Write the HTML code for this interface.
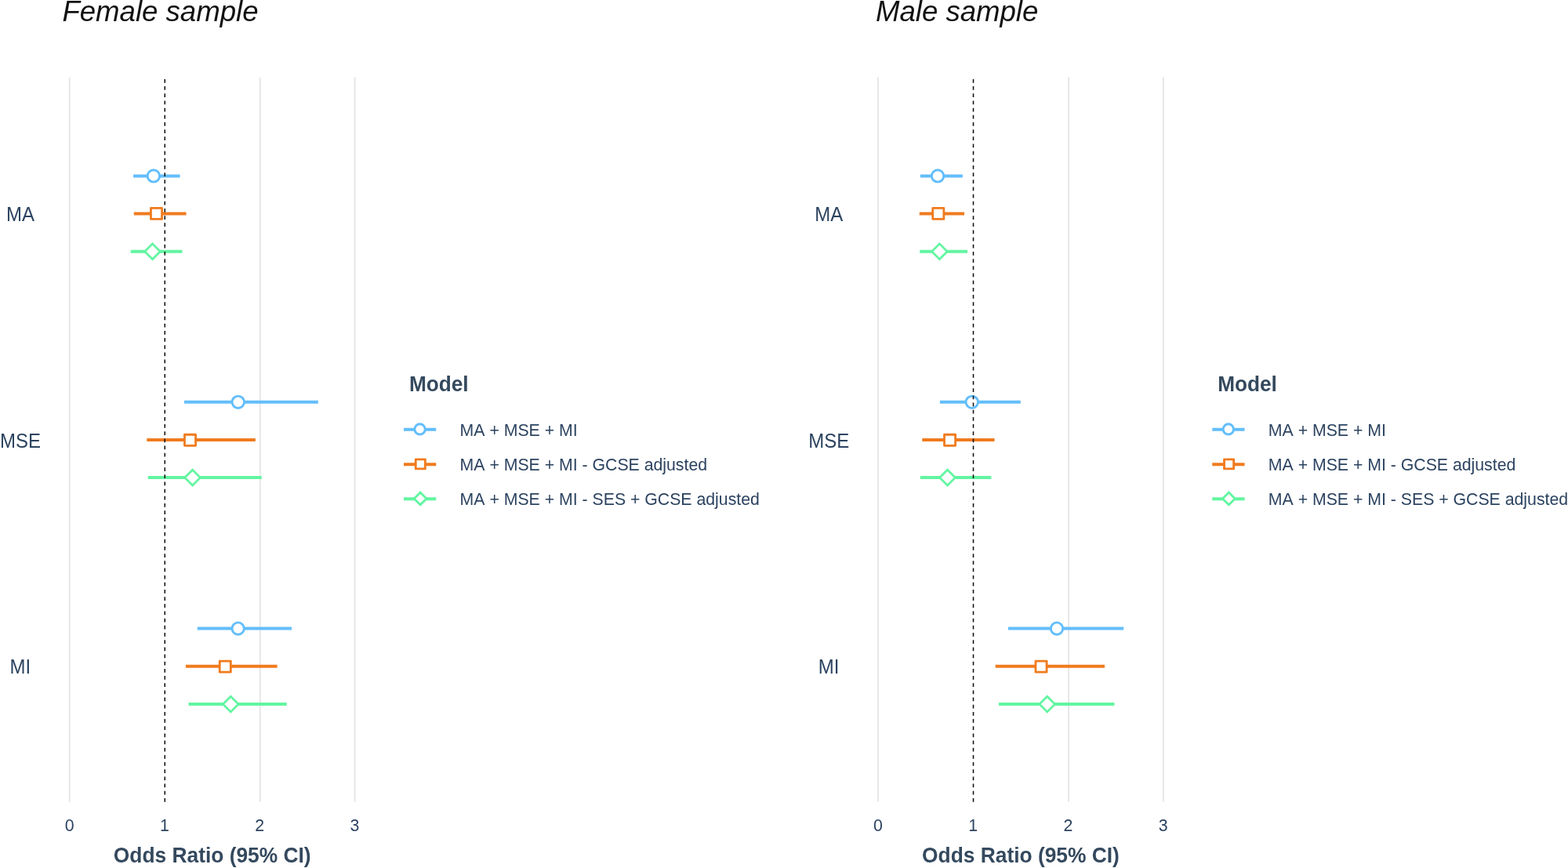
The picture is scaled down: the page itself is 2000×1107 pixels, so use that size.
<!DOCTYPE html>
<html lang="en">
<head>
<meta charset="utf-8">
<title>Odds ratios by model: female and male samples</title>
<style>
html,body{margin:0;padding:0;background:#fff;}
body{width:2000px;height:1107px;overflow:hidden;}
svg{display:block;}
text{font-family:"Liberation Sans",sans-serif;fill:#2c4360;font-kerning:none;}
.title{font-size:36.6px;font-style:italic;fill:#111;}
.ytick{font-size:24px;text-anchor:middle;}
.xtick{font-size:21.3px;text-anchor:middle;}
.xtitle{font-size:26.35px;font-weight:bold;text-anchor:middle;fill:#34495e;}
.lgtitle{font-size:26.2px;font-weight:bold;fill:#34495e;}
.lg{font-size:21.27px;}
.grid{stroke:#e6e6e6;stroke-width:1.9;}
.ref{stroke:#111;stroke-width:1.55;stroke-dasharray:4.75 4.42;}
</style>
</head>
<body>
<svg width="2000" height="1107" viewBox="0 0 2000 1107">
<rect x="0" y="0" width="2000" height="1107" fill="#fff"/>
<g class="panel">
<line class="grid" x1="88.65" y1="98.6" x2="88.65" y2="1022.7"/>
<line class="grid" x1="331.8" y1="98.6" x2="331.8" y2="1022.7"/>
<line class="grid" x1="452.55" y1="98.6" x2="452.55" y2="1022.7"/>
<line x1="170" y1="224.45" x2="229.5" y2="224.45" stroke="#63BEFB" stroke-width="4"/>
<circle cx="195.9" cy="224.45" r="7.7" fill="#fff" stroke="#63BEFB" stroke-width="2.9"/>
<line x1="170.75" y1="272.5" x2="237.5" y2="272.5" stroke="#F07B1E" stroke-width="4"/>
<rect x="192.45" y="265.35" width="14.1" height="14.1" fill="#fff" stroke="#F07B1E" stroke-width="2.8" stroke-linejoin="round"/>
<line x1="166.75" y1="320.8" x2="232.5" y2="320.8" stroke="#62F5A1" stroke-width="4"/>
<path d="M204.38,320.7L194.5,330.58L184.62,320.7L194.5,310.82Z" fill="#fff" stroke="#62F5A1" stroke-width="2.75"/>
<line x1="235" y1="512.8" x2="405.8" y2="512.8" stroke="#63BEFB" stroke-width="4"/>
<circle cx="303.75" cy="512.8" r="7.7" fill="#fff" stroke="#63BEFB" stroke-width="2.9"/>
<line x1="187.3" y1="560.95" x2="325.8" y2="560.95" stroke="#F07B1E" stroke-width="4"/>
<rect x="235.45" y="554.25" width="14.1" height="14.1" fill="#fff" stroke="#F07B1E" stroke-width="2.8" stroke-linejoin="round"/>
<line x1="188.75" y1="609" x2="333.75" y2="609" stroke="#62F5A1" stroke-width="4"/>
<path d="M255.48,609.1L245.6,618.98L235.72,609.1L245.6,599.22Z" fill="#fff" stroke="#62F5A1" stroke-width="2.75"/>
<line x1="251.7" y1="801.6" x2="372" y2="801.6" stroke="#63BEFB" stroke-width="4"/>
<circle cx="303.65" cy="801.6" r="7.7" fill="#fff" stroke="#63BEFB" stroke-width="2.9"/>
<line x1="236.9" y1="849.8" x2="353.6" y2="849.8" stroke="#F07B1E" stroke-width="4"/>
<rect x="280.2" y="843.1" width="14.1" height="14.1" fill="#fff" stroke="#F07B1E" stroke-width="2.8" stroke-linejoin="round"/>
<line x1="240.6" y1="897.95" x2="365.75" y2="897.95" stroke="#62F5A1" stroke-width="4"/>
<path d="M304.13,898.05L294.25,907.93L284.37,898.05L294.25,888.17Z" fill="#fff" stroke="#62F5A1" stroke-width="2.75"/>
<line class="ref" x1="210.25" y1="1022.7" x2="210.25" y2="99.6"/>
<text class="title" transform="translate(79.4 27.4) scale(1 1.015)">Female sample</text>
<text class="ytick" transform="translate(25.9 281.9) scale(1 1.041)">MA</text>
<text class="ytick" transform="translate(25.9 570.5) scale(1 1.041)">MSE</text>
<text class="ytick" transform="translate(25.9 859.4) scale(1 1.041)">MI</text>
<text class="xtick" transform="translate(88.6 1059.5) scale(1 1.041)">0</text>
<text class="xtick" transform="translate(209.9 1059.5) scale(1 1.041)">1</text>
<text class="xtick" transform="translate(331.2 1059.5) scale(1 1.041)">2</text>
<text class="xtick" transform="translate(452.5 1059.5) scale(1 1.041)">3</text>
<text class="xtitle" transform="translate(270.7 1099.7) scale(1 1.030)">Odds Ratio (95% CI)</text>
<text class="lgtitle" transform="translate(521.9 498.75) scale(1 1.020)">Model</text>
<line x1="515" y1="547.8" x2="556.25" y2="547.8" stroke="#63BEFB" stroke-width="4"/>
<circle cx="535.55" cy="547.4" r="6.65" fill="#fff" stroke="#63BEFB" stroke-width="2.9"/>
<text class="lg" transform="translate(586.6 555.95) scale(1 1.050)">MA + MSE + MI</text>
<line x1="515" y1="592.3" x2="556.25" y2="592.3" stroke="#F07B1E" stroke-width="4"/>
<rect x="530.25" y="585.8" width="12.1" height="12.1" fill="#fff" stroke="#F07B1E" stroke-width="2.85" stroke-linejoin="round"/>
<text class="lg" transform="translate(586.6 599.8) scale(1 1.050)">MA + MSE + MI - GCSE adjusted</text>
<line x1="515" y1="636.3" x2="556.25" y2="636.3" stroke="#62F5A1" stroke-width="4"/>
<path d="M544.03,635.9L536.1,643.83L528.17,635.9L536.1,627.97Z" fill="#fff" stroke="#62F5A1" stroke-width="2.85"/>
<text class="lg" transform="translate(586.6 643.9) scale(1 1.050)">MA + MSE + MI - SES + GCSE adjusted</text>
</g>
<g class="panel">
<line class="grid" x1="1119.9" y1="98.6" x2="1119.9" y2="1022.7"/>
<line class="grid" x1="1363.05" y1="98.6" x2="1363.05" y2="1022.7"/>
<line class="grid" x1="1483.8" y1="98.6" x2="1483.8" y2="1022.7"/>
<line x1="1173.8" y1="224.45" x2="1227.85" y2="224.45" stroke="#63BEFB" stroke-width="4"/>
<circle cx="1196.05" cy="224.45" r="7.7" fill="#fff" stroke="#63BEFB" stroke-width="2.9"/>
<line x1="1172.75" y1="272.5" x2="1230" y2="272.5" stroke="#F07B1E" stroke-width="4"/>
<rect x="1189.75" y="265.35" width="14.1" height="14.1" fill="#fff" stroke="#F07B1E" stroke-width="2.8" stroke-linejoin="round"/>
<line x1="1173.15" y1="320.8" x2="1234" y2="320.8" stroke="#62F5A1" stroke-width="4"/>
<path d="M1208.28,320.7L1198.4,330.58L1188.52,320.7L1198.4,310.82Z" fill="#fff" stroke="#62F5A1" stroke-width="2.75"/>
<line x1="1198.85" y1="512.8" x2="1301.75" y2="512.8" stroke="#63BEFB" stroke-width="4"/>
<circle cx="1239.75" cy="512.8" r="7.7" fill="#fff" stroke="#63BEFB" stroke-width="2.9"/>
<line x1="1176.25" y1="560.95" x2="1268.5" y2="560.95" stroke="#F07B1E" stroke-width="4"/>
<rect x="1204.5" y="554.25" width="14.1" height="14.1" fill="#fff" stroke="#F07B1E" stroke-width="2.8" stroke-linejoin="round"/>
<line x1="1173.75" y1="609" x2="1264.4" y2="609" stroke="#62F5A1" stroke-width="4"/>
<path d="M1218.38,609.1L1208.5,618.98L1198.62,609.1L1208.5,599.22Z" fill="#fff" stroke="#62F5A1" stroke-width="2.75"/>
<line x1="1285.9" y1="801.6" x2="1433.15" y2="801.6" stroke="#63BEFB" stroke-width="4"/>
<circle cx="1348" cy="801.6" r="7.7" fill="#fff" stroke="#63BEFB" stroke-width="2.9"/>
<line x1="1269.65" y1="849.8" x2="1409" y2="849.8" stroke="#F07B1E" stroke-width="4"/>
<rect x="1320.95" y="843.1" width="14.1" height="14.1" fill="#fff" stroke="#F07B1E" stroke-width="2.8" stroke-linejoin="round"/>
<line x1="1274" y1="897.95" x2="1421.4" y2="897.95" stroke="#62F5A1" stroke-width="4"/>
<path d="M1345.63,898.05L1335.75,907.93L1325.87,898.05L1335.75,888.17Z" fill="#fff" stroke="#62F5A1" stroke-width="2.75"/>
<line class="ref" x1="1241.5" y1="1022.7" x2="1241.5" y2="99.6"/>
<text class="title" transform="translate(1116.95 27.4) scale(1 1.015)">Male sample</text>
<text class="ytick" transform="translate(1057.15 281.9) scale(1 1.041)">MA</text>
<text class="ytick" transform="translate(1057.15 570.5) scale(1 1.041)">MSE</text>
<text class="ytick" transform="translate(1057.15 859.4) scale(1 1.041)">MI</text>
<text class="xtick" transform="translate(1119.85 1059.5) scale(1 1.041)">0</text>
<text class="xtick" transform="translate(1241.15 1059.5) scale(1 1.041)">1</text>
<text class="xtick" transform="translate(1362.45 1059.5) scale(1 1.041)">2</text>
<text class="xtick" transform="translate(1483.75 1059.5) scale(1 1.041)">3</text>
<text class="xtitle" transform="translate(1301.95 1099.7) scale(1 1.030)">Odds Ratio (95% CI)</text>
<text class="lgtitle" transform="translate(1553.15 498.75) scale(1 1.020)">Model</text>
<line x1="1546.25" y1="547.8" x2="1587.5" y2="547.8" stroke="#63BEFB" stroke-width="4"/>
<circle cx="1566.8" cy="547.4" r="6.65" fill="#fff" stroke="#63BEFB" stroke-width="2.9"/>
<text class="lg" transform="translate(1617.85 555.95) scale(1 1.050)">MA + MSE + MI</text>
<line x1="1546.25" y1="592.3" x2="1587.5" y2="592.3" stroke="#F07B1E" stroke-width="4"/>
<rect x="1561.5" y="585.8" width="12.1" height="12.1" fill="#fff" stroke="#F07B1E" stroke-width="2.85" stroke-linejoin="round"/>
<text class="lg" transform="translate(1617.85 599.8) scale(1 1.050)">MA + MSE + MI - GCSE adjusted</text>
<line x1="1546.25" y1="636.3" x2="1587.5" y2="636.3" stroke="#62F5A1" stroke-width="4"/>
<path d="M1575.28,635.9L1567.35,643.83L1559.42,635.9L1567.35,627.97Z" fill="#fff" stroke="#62F5A1" stroke-width="2.85"/>
<text class="lg" transform="translate(1617.85 643.9) scale(1 1.050)">MA + MSE + MI - SES + GCSE adjusted</text>
</g>
</svg>
</body>
</html>
